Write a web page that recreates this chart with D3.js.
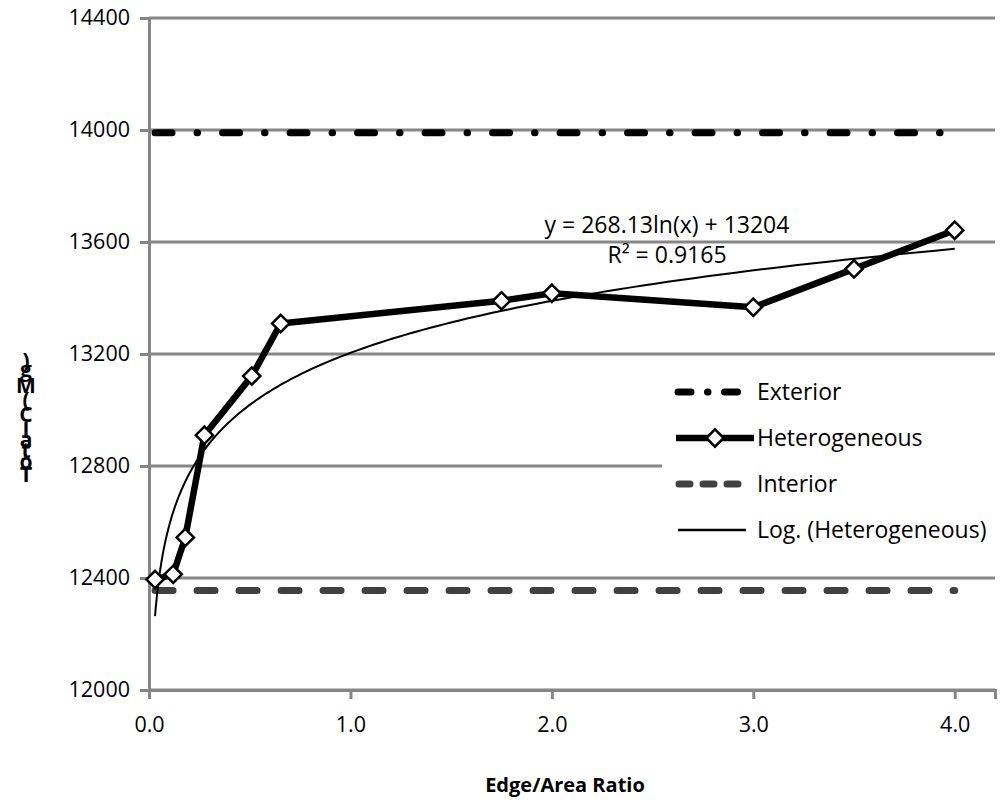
<!DOCTYPE html>
<html>
<head>
<meta charset="utf-8">
<script src="https://cdn.jsdelivr.net/npm/d3@7"></script>
<style>
  body { margin: 0; background: #fff; }
  svg { display: block; font-family: "Open Sans", sans-serif; }
</style>
</head>
<body>
<div id="chart"></div>
<script>
// values
const edgeArea = [0.03, 0.12, 0.18, 0.275, 0.51, 0.654, 1.75, 2.0, 3.0, 3.5, 4.0];
const heterogeneous = [12395, 12413, 12545, 12910, 13121, 13309, 13390, 13417, 13367, 13504, 13642];
const exterior = [13990, 13990, 13990, 13990, 13990, 13990, 13990, 13990, 13990, 13990, 13990];
const interior = [12355, 12355, 12355, 12355, 12355, 12355, 12355, 12355, 12355, 12355, 12355];
const trendSlope = 268.13;
const trendIntercept = 13204;
const trendR2 = 0.9165;
const xTicks = [0, 1, 2, 3, 4];
const yTicks = [12000, 12400, 12800, 13200, 13600, 14000, 14400];
const legendNames = ["Exterior", "Heterogeneous", "Interior", "Log. (Heterogeneous)"];
const yLabel = "Total C (Mg)";

const width = 1005;
const height = 804;
const margin = {top: 18, right: 10, bottom: 114, left: 149};

const svg = d3.select("#chart").append("svg")
    .attr("width", width)
    .attr("height", height);

const xScale = d3.scaleLinear()
    .domain([0, 4.2])
    .range([margin.left, width - margin.right]);

const yScale = d3.scaleLinear()
    .domain([12000, 14400])
    .range([height - margin.bottom, margin.top]);

const grey = "#868686";
const axisY = height - margin.bottom;

// gridlines
svg.append("g")
    .selectAll("line")
    .data(yTicks)
    .join("line")
    .attr("x1", margin.left)
    .attr("x2", width - margin.right)
    .attr("y1", d => yScale(d))
    .attr("y2", d => yScale(d))
    .attr("stroke", grey)
    .attr("stroke-width", 3);

// axes
const yAxisG = svg.append("g")
    .attr("transform", `translate(${margin.left},0)`)
    .call(d3.axisLeft(yScale).tickValues(yTicks).tickSize(9).tickPadding(10).tickFormat(d3.format("d")));

const xAxisG = svg.append("g")
    .attr("transform", `translate(0,${axisY})`)
    .call(d3.axisBottom(xScale).tickValues(xTicks).tickSize(9).tickPadding(18).tickFormat(d3.format(".1f")));

[yAxisG, xAxisG].forEach(a => {
    a.select(".domain").attr("stroke", grey).attr("stroke-width", 3);
    a.selectAll(".tick line").attr("stroke", grey).attr("stroke-width", 3);
    a.selectAll("text").attr("font-size", 21.5).attr("fill", "#000")
        .attr("font-family", "Open Sans, sans-serif");
});

// legend box covers grid behind it
svg.append("rect")
    .attr("x", 662)
    .attr("y", 362)
    .attr("width", 343)
    .attr("height", 206)
    .attr("fill", "#fff");

const line = d3.line()
    .x(d => xScale(d[0]))
    .y(d => yScale(d[1]));

// exterior
svg.append("path")
    .datum(d3.zip(edgeArea, exterior))
    .attr("d", line)
    .attr("fill", "none")
    .attr("stroke", "#000")
    .attr("stroke-width", 7)
    .attr("stroke-linecap", "round")
    .attr("stroke-dasharray", "17,25,0.5,25");

// interior
svg.append("path")
    .datum(d3.zip(edgeArea, interior))
    .attr("d", line)
    .attr("fill", "none")
    .attr("stroke", "#404040")
    .attr("stroke-width", 7)
    .attr("stroke-linecap", "round")
    .attr("stroke-dasharray", "18,24");

// heterogeneous
svg.append("path")
    .datum(d3.zip(edgeArea, heterogeneous))
    .attr("d", line)
    .attr("fill", "none")
    .attr("stroke", "#000")
    .attr("stroke-width", 6.5)
    .attr("stroke-linejoin", "round");

// log trendline from the printed equation, over the data's x range
const xMin = d3.min(edgeArea), xMax = d3.max(edgeArea);
const trendPts = d3.ticks(0, 1, 200).map(t => {
    const x = Math.exp(Math.log(xMin) + t * (Math.log(xMax) - Math.log(xMin)));
    return [x, trendSlope * Math.log(x) + trendIntercept];
});
svg.append("path")
    .datum(trendPts)
    .attr("d", line)
    .attr("fill", "none")
    .attr("stroke", "#000")
    .attr("stroke-width", 2);

// diamonds
const diamond = d3.symbol().type(d3.symbolDiamond2).size(190);
svg.append("g")
    .selectAll("path")
    .data(d3.zip(edgeArea, heterogeneous))
    .join("path")
    .attr("d", diamond)
    .attr("transform", d => `translate(${xScale(d[0])},${yScale(d[1])})`)
    .attr("fill", "#fff")
    .attr("stroke", "#000")
    .attr("stroke-width", 2.5);

// equation
svg.append("text")
    .attr("x", 667)
    .attr("y", 233)
    .attr("text-anchor", "middle")
    .attr("font-size", 23)
    .text(`y = ${trendSlope}ln(x) + ${trendIntercept}`);
svg.append("text")
    .attr("x", 667)
    .attr("y", 263)
    .attr("text-anchor", "middle")
    .attr("font-size", 23)
    .text(`R² = ${trendR2}`);

// legend
const legend = svg.append("g")
    .attr("transform", "translate(678,392)");
const rowH = 46;
legend.selectAll("text")
    .data(legendNames)
    .join("text")
    .attr("x", 79)
    .attr("y", (d, i) => i * rowH)
    .attr("dy", "0.35em")
    .attr("font-size", 23)
    .text(d => d);

legend.append("line")
    .attr("x1", 0).attr("x2", 66).attr("y1", 0).attr("y2", 0)
    .attr("stroke", "#000").attr("stroke-width", 7)
    .attr("stroke-linecap", "round")
    .attr("stroke-dasharray", "13,16.5,0.5,16.5");
legend.append("line")
    .attr("x1", -2).attr("x2", 76).attr("y1", rowH).attr("y2", rowH)
    .attr("stroke", "#000").attr("stroke-width", 6.5);
legend.append("path")
    .attr("d", diamond)
    .attr("transform", `translate(37,${rowH})`)
    .attr("fill", "#fff").attr("stroke", "#000").attr("stroke-width", 2.5);
legend.append("line")
    .attr("x1", 1).attr("x2", 72).attr("y1", rowH * 2).attr("y2", rowH * 2)
    .attr("stroke", "#404040").attr("stroke-width", 7)
    .attr("stroke-linecap", "round")
    .attr("stroke-dasharray", "11,13");
legend.append("line")
    .attr("x1", 0).attr("x2", 68).attr("y1", rowH * 3).attr("y2", rowH * 3)
    .attr("stroke", "#000").attr("stroke-width", 2.5);

// x title
svg.append("text")
    .attr("x", 565)
    .attr("y", 792)
    .attr("text-anchor", "middle")
    .attr("font-size", 20)
    .attr("font-weight", "bold")
    .text("Edge/Area Ratio");

// y label: upright characters stacked bottom to top, each advancing by its own width
const yLabelG = svg.append("g");
const chars = yLabelG.selectAll("text")
    .data(yLabel.split(""))
    .join("text")
    .attr("x", 26)
    .attr("text-anchor", "middle")
    .attr("dominant-baseline", "central")
    .attr("font-size", 21)
    .attr("font-weight", "bold")
    .text(d => d);
let cum = 0;
chars.each(function(d) {
    const w = d === " " ? 5.5 : this.getComputedTextLength();
    d3.select(this).attr("y", 480 - cum - w / 2);
    cum += w;
});
</script>
</body>
</html>
